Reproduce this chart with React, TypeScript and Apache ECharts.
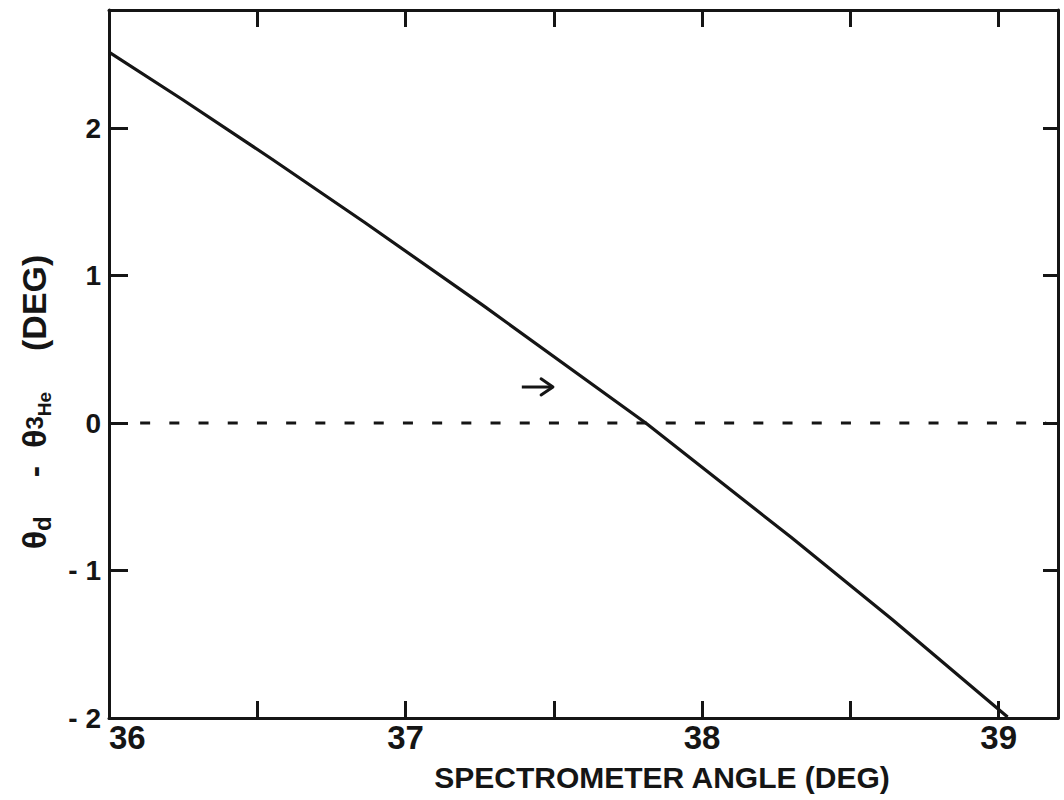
import React, { useEffect, useRef } from "react";
import * as echarts from "echarts";

// Spectrometer angle (deg) vs. theta_d - theta_3He (deg)
const angleDeg = [36.0, 36.25, 36.55, 36.86, 37.26, 37.81, 38.3, 38.64, 39.03];
const diffDeg = [2.515, 2.19, 1.788, 1.363, 0.799, 0.0, -0.775, -1.33, -1.993];

// dashed zero reference line
const zeroLineX = [36.105, 39.16];
const zeroLineY = [0, 0];

// arrow annotation (shaft + head)
const arrowShaftX = [37.392, 37.497];
const arrowShaftY = [0.244, 0.244];
const arrowHeadX = [37.457, 37.497, 37.457];
const arrowHeadY = [0.3, 0.244, 0.19];

const xTicks = { min: 36, max: 39.2, interval: 0.5 };
const yTicks = { min: -2, max: 2.8, interval: 1 };

const xTitle = "SPECTROMETER ANGLE (DEG)";

const FONT = '"Liberation Sans", Arial, sans-serif';
const INK = "#151515";

function zip(xs: number[], ys: number[]) {
  return xs.map((x, i) => [x, ys[i]]);
}

export default function App() {
  const ref = useRef<HTMLDivElement>(null);
  useEffect(() => {
    if (!ref.current) return;
    const chart = echarts.init(ref.current, undefined, { renderer: "svg" });
    const axisLine = { show: true, onZero: false, lineStyle: { color: INK, width: 3 } };
    const fmt = (v: number) => {
      if (Math.abs(v - Math.round(v)) > 1e-6) return "";
      const r = Math.round(v);
      return r < 0 ? "- " + Math.abs(r) : String(r);
    };
    const base = { fontFamily: FONT, fontWeight: "bold", fill: INK };
    chart.setOption({
      animation: false,
      backgroundColor: "#ffffff",
      grid: { left: 109, right: 6, top: 10, bottom: 82, containLabel: false, outerBoundsMode: "none" },
      xAxis: [
        {
          type: "value",
          position: "bottom",
          ...xTicks,
          axisLine,
          splitLine: { show: false },
          axisTick: { show: true, inside: true, length: 17, lineStyle: { color: INK, width: 3 } },
          axisLabel: {
            formatter: fmt,
            margin: 3,
            color: INK,
            fontFamily: FONT,
            fontWeight: "bold",
            fontSize: 33,
            alignMinLabel: "left",
          },
        },
        {
          type: "value",
          position: "top",
          ...xTicks,
          axisLine,
          splitLine: { show: false },
          axisTick: { show: true, inside: true, length: 17, lineStyle: { color: INK, width: 3 } },
          axisLabel: { show: false },
        },
      ],
      yAxis: [
        {
          type: "value",
          position: "left",
          ...yTicks,
          axisLine,
          splitLine: { show: false },
          axisTick: { show: true, inside: true, length: 19, lineStyle: { color: INK, width: 3 } },
          axisLabel: {
            formatter: fmt,
            margin: 8,
            color: INK,
            fontFamily: FONT,
            fontWeight: "bold",
            fontSize: 28,
          },
        },
        {
          type: "value",
          position: "right",
          ...yTicks,
          axisLine,
          splitLine: { show: false },
          axisTick: { show: true, inside: true, length: 15, lineStyle: { color: INK, width: 3 } },
          axisLabel: { show: false },
        },
      ],
      series: [
        {
          type: "line",
          xAxisIndex: 0,
          yAxisIndex: 0,
          data: zip(angleDeg, diffDeg),
          symbol: "none",
          lineStyle: { color: INK, width: 3.2 },
          silent: true,
        },
        {
          type: "line",
          xAxisIndex: 0,
          yAxisIndex: 0,
          data: zip(zeroLineX, zeroLineY),
          symbol: "none",
          lineStyle: { color: INK, width: 3, type: [10, 19.2] },
          silent: true,
        },
        {
          type: "line",
          xAxisIndex: 0,
          yAxisIndex: 0,
          data: zip(arrowShaftX, arrowShaftY),
          symbol: "none",
          lineStyle: { color: INK, width: 3 },
          silent: true,
        },
        {
          type: "line",
          xAxisIndex: 0,
          yAxisIndex: 0,
          data: zip(arrowHeadX, arrowHeadY),
          symbol: "none",
          lineStyle: { color: INK, width: 3, join: "round", cap: "round" },
          silent: true,
        },
      ],
      graphic: [
        {
          type: "text",
          x: 662,
          y: 777,
          silent: true,
          style: {
            text: xTitle,
            fill: INK,
            fontFamily: FONT,
            fontWeight: "bold",
            fontSize: 30,
            textAlign: "center",
            textVerticalAlign: "middle",
            verticalAlign: "middle",
          },
        },
        {
          type: "text",
          x: 34,
          y: 402,
          rotation: Math.PI / 2,
          silent: true,
          style: {
            text: "{t|θ}{sub|d}{ga| }{t|-}{gb| }{t|θ}{sup|3}{sub2|He}{gc| }{t|(DEG)}",
            ...base,
            fontSize: 34,
            textAlign: "center",
            textVerticalAlign: "middle",
            verticalAlign: "middle",
            rich: {
              t: { ...base, fontSize: 34, lineHeight: 40 },
              ga: { ...base, fontSize: 34, lineHeight: 40, width: 39 },
              gb: { ...base, fontSize: 34, lineHeight: 40, width: 18 },
              gc: { ...base, fontSize: 34, lineHeight: 40, width: 41 },
              sub: { ...base, fontSize: 24, lineHeight: 24, verticalAlign: "bottom" },
              sup: { ...base, fontSize: 24, lineHeight: 28, verticalAlign: "middle" },
              sub2: { ...base, fontSize: 19, lineHeight: 20, verticalAlign: "bottom" },
            },
          },
        },
      ],
    });
    return () => chart.dispose();
  }, []);
  return (
    <div
      ref={ref}
      style={{ position: "absolute", left: 0, top: 0, width: 1064, height: 800 }}
    />
  );
}
